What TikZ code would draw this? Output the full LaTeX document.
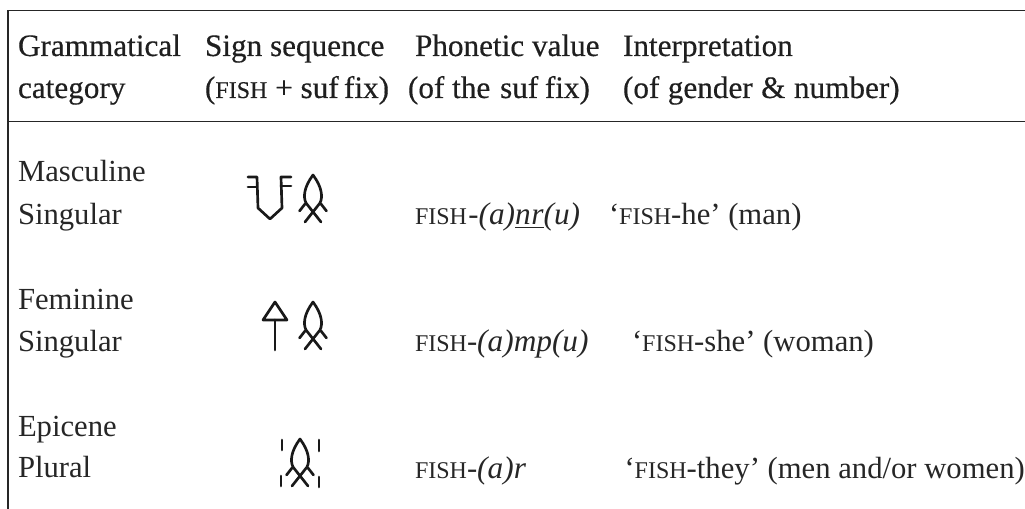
\documentclass[tikz,border=0pt]{standalone}
\usepackage{fontspec}
\setmainfont{Liberation Serif}
\newfontfamily\hdfont[FakeBold=0.4]{Liberation Serif}
\newcommand{\hsc}[1]{{\fontsize{18}{18}\selectfont #1}}
\newcommand{\bsc}[1]{{\fontsize{18}{18}\selectfont #1}}
\newcommand{\ital}[1]{{\fontsize{23.5}{23.5}\selectfont\itshape #1}}
\tikzset{
 head/.style={anchor=base west,inner sep=0pt,outer sep=0pt,font=\fontsize{23.4}{23.4}\hdfont,text=black!88},
 body/.style={anchor=base west,inner sep=0pt,outer sep=0pt,font=\fontsize{23}{23}\selectfont,text=black!85},
 rule/.style={line width=1.2pt,black!85},
 sign/.style={line width=2pt,black!90,line cap=round,line join=round},
 fishsign/.pic={
   \draw[sign] (-13.5,36) -- (-8,29);
   \draw[sign] (13.5,36) -- (8,29);
   \draw[sign] (8,47) -- (-7,28) .. controls (-10,22) and (-9,12) .. (0,0)
      .. controls (9,12) and (10,22) .. (7,28) -- (-8,47);
 }
}
\begin{document}
\begin{tikzpicture}[x=0.75pt,y=-0.75pt]
\useasboundingbox (0,0) rectangle (1025,509);
\coordinate (tl) at (8,10.5); \coordinate (tr) at (1025,10.5);
\coordinate (hl) at (8,121.5); \coordinate (hr) at (1025,121.5);
\coordinate (bl) at (8,509);
\draw[rule] (tr) -- (tl) -- (bl);
\draw[rule] (hl) -- (hr);
% header
\node[head] (h1a) at (18,56) {Grammatical};
\node[head] (h1b) at (18,98) {category};
\node[head] (h2a) at (205,56) {Sign sequence};
\node[head] (h2b) at (205,98) {(\hsc{FISH} + suf\kern4pt fix)};
\node[head] (h3a) at (415,56) {Phonetic value};
\node[head] (h3b) at (408,98) {(of the\kern1.5pt\ suf\kern5pt fix)};
\node[head] (h4a) at (623,56) {Interpretation};
\node[head] (h4b) at (623,98) {(of\kern0.5pt\ gender\kern0.5pt\ \&\kern0.5pt\ number)};
% row labels
\node[body] (r1a) at (18,182) {Masculine};
\node[body] (r1b) at (18,225) {Singular};
\node[body] (r2a) at (18,310) {Feminine};
\node[body] (r2b) at (18,352) {Singular};
\node[body] (r3a) at (18,437) {Epicene};
\node[body] (r3b) at (18,478) {Plural};
% phonetic
\node[body] (p1) at (415,225) {\bsc{FISH}\kern1pt-\ital{(a)\underline{n}\kern0.5pt\underline{r}(u)}};
\node[body] (p2) at (415,352) {\bsc{FISH}-\ital{(a)mp(u)}};
\node[body] (p3) at (415,479) {\bsc{FISH}-\ital{(a)r}};
% interpretation
\node[body] (i1) at (609,225) {‘\bsc{FISH}-he’ (man)};
\node[body] (i2) at (632,352) {‘\bsc{FISH}-she’ (woman)};
\node[body] (i3) at (624.5,479) {‘\bsc{FISH}-they’ (men and/or women)};
% signs row 1
\draw[sign] (248,177) -- (257,177) -- (258,208) -- (270,219) -- (282,208) -- (281,177) -- (291,177);
\draw[sign] (248,187) -- (257,187);
\draw[sign] (281,186) -- (291,186);
\pic at (313,175) {fishsign};
% signs row 2
\draw[sign] (275,302) -- (263,320) -- (287,320) -- cycle;
\draw[sign] (275,320) -- (275,350);
\pic at (313,302) {fishsign};
% signs row 3
\pic at (300,439) {fishsign};
\draw[sign] (282,440) -- (282,450);
\draw[sign] (319,440) -- (319,451);
\draw[sign] (281,476) -- (281,486);
\draw[sign] (319,477) -- (319,487);
\end{tikzpicture}
\end{document}
